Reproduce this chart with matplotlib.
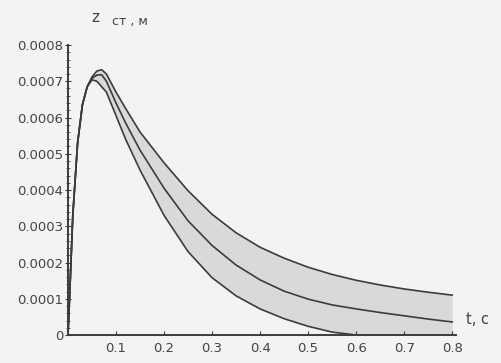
import matplotlib
matplotlib.use("Agg")
import matplotlib.pyplot as plt
from matplotlib.ticker import AutoMinorLocator

# time, s
t = [0, 0.005, 0.01, 0.02, 0.03, 0.04, 0.05, 0.06, 0.07, 0.08, 0.1, 0.12, 0.15,
     0.2, 0.25, 0.3, 0.35, 0.4, 0.45, 0.5, 0.55, 0.6, 0.65, 0.7, 0.75, 0.8]

# z_ст, m  (upper / middle / lower curves)
z_upper = [0, 1.6e-4, 3.3e-4, 5.3e-4, 6.35e-4, 6.85e-4, 7.12e-4, 7.28e-4, 7.32e-4, 7.2e-4,
           6.7e-4, 6.25e-4, 5.6e-4, 4.75e-4, 3.98e-4, 3.33e-4, 2.82e-4, 2.42e-4, 2.12e-4,
           1.87e-4, 1.67e-4, 1.51e-4, 1.38e-4, 1.27e-4, 1.18e-4, 1.1e-4]
z_middle = [0, 1.6e-4, 3.3e-4, 5.3e-4, 6.35e-4, 6.85e-4, 7.08e-4, 7.17e-4, 7.18e-4, 7.0e-4,
            6.4e-4, 5.85e-4, 5.1e-4, 4.05e-4, 3.15e-4, 2.47e-4, 1.93e-4, 1.52e-4, 1.21e-4,
            0.99e-4, 0.83e-4, 0.72e-4, 0.62e-4, 0.53e-4, 0.44e-4, 0.36e-4]
z_lower = [0, 1.6e-4, 3.3e-4, 5.3e-4, 6.35e-4, 6.85e-4, 7.04e-4, 7.0e-4, 6.85e-4, 6.7e-4,
           6.05e-4, 5.4e-4, 4.55e-4, 3.3e-4, 2.3e-4, 1.58e-4, 1.08e-4, 0.72e-4, 0.45e-4,
           0.24e-4, 0.08e-4, 0, 0, 0, 0, 0]

x_ticks = [0.1, 0.2, 0.3, 0.4, 0.5, 0.6, 0.7, 0.8]
y_ticks = [0, 0.0001, 0.0002, 0.0003, 0.0004, 0.0005, 0.0006, 0.0007, 0.0008]
y_labels = ["0", "0.0001", "0.0002", "0.0003", "0.0004", "0.0005", "0.0006", "0.0007", "0.0008"]

bg = "#f3f3f1"
ink = "#3c3c3c"

fig = plt.figure(figsize=(5.01, 3.63), dpi=100, facecolor=bg)
ax = fig.add_axes([68 / 501, 1 - 335 / 363, (456 - 68) / 501, (335 - 45) / 363])
ax.set_facecolor(bg)

# shaded band between outer curves
ax.fill_between(t, z_lower, z_upper, color="#d9d9d7", lw=0)
for z in (z_upper, z_middle, z_lower):
    ax.plot(t, z, color=ink, lw=1.2)

ax.set_xlim(0, 0.808)
ax.set_ylim(0, 0.0008)
for s in ("top", "right"):
    ax.spines[s].set_visible(False)
for s in ("left", "bottom"):
    ax.spines[s].set_color(ink)
    ax.spines[s].set_linewidth(1.4)

ax.set_xticks(x_ticks)
ax.set_xticklabels([str(v) for v in x_ticks])
ax.set_yticks(y_ticks)
ax.set_yticklabels(y_labels)
ax.yaxis.set_minor_locator(AutoMinorLocator(5))
ax.tick_params(axis="x", direction="in", length=3, color=ink, labelsize=9.5,
               labelcolor="#444444", pad=5)
ax.tick_params(axis="y", which="major", direction="inout", length=5, color=ink,
               labelsize=9.5, labelcolor="#444444", pad=1)
ax.tick_params(axis="y", which="minor", direction="inout", length=3, color=ink)

# axis captions
fig.text(95 / 501, 1 - 18 / 363, "z", fontsize=11, color="#444444", ha="center", va="center")
fig.text(112 / 501, 1 - 22 / 363, "ст , м", fontsize=9, color="#444444", ha="left", va="center")
fig.text(466 / 501, 1 - 320 / 363, "t, с", fontsize=10.5, color="#444444", ha="left", va="center")

fig.savefig("out.png", dpi=100, facecolor=bg)
